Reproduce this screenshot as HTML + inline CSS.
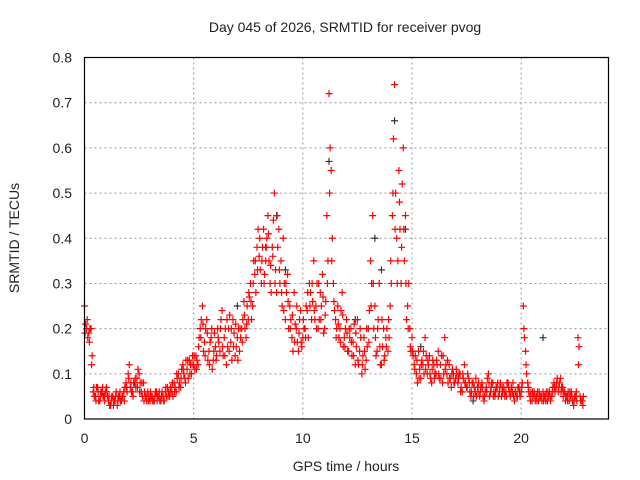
<!DOCTYPE html>
<html><head><meta charset="utf-8"><style>
body{margin:0;background:#fff;}
svg{display:block;font-family:"Liberation Sans",sans-serif;}
</style></head><body>
<svg id="chart" width="640" height="480">
<text x="345" y="32" font-size="14" text-anchor="middle" fill="#222">Day 045 of 2026, SRMTID for receiver pvog</text>
<text x="346" y="471" font-size="14" text-anchor="middle" fill="#222">GPS time / hours</text>
<text transform="translate(19,238) rotate(-90)" font-size="14" text-anchor="middle" fill="#222">SRMTID / TECUs</text>
<g id="grid"></g><g id="ticks"></g><g id="marks"></g>
<rect x="84.5" y="57.5" width="524" height="361.5" fill="none" stroke="#000" stroke-width="1.2"/>
</svg>
<script>
const xTicks=[0,5,10,15,20];
const yTicks=[0,0.1,0.2,0.3,0.4,0.5,0.6,0.7,0.8];
const yTickLabels=["0","0.1","0.2","0.3","0.4","0.5","0.6","0.7","0.8"];
const startTime=0, stepHours=0.1;
const values=[0.25,0.2,0.19,0.2,0.06,0.05,0.07,0.04,0.06,0.05,0.07,
0.04,0.03,0.05,0.04,0.03,0.05,0.04,0.06,0.08,0.1,
0.07,0.06,0.08,0.09,0.1,0.06,0.08,0.05,0.06,0.04,
0.05,0.04,0.06,0.05,0.04,0.05,0.06,0.07,0.05,0.06,
0.08,0.06,0.1,0.07,0.12,0.09,0.11,0.13,0.1,0.12,
0.14,0.12,0.2,0.25,0.17,0.22,0.15,0.18,0.13,0.16,
0.2,0.15,0.24,0.18,0.12,0.2,0.17,0.22,0.14,0.18,
0.15,0.2,0.26,0.18,0.22,0.3,0.25,0.32,0.38,0.36,
0.3,0.42,0.35,0.45,0.3,0.38,0.5,0.28,0.42,0.35,
0.4,0.22,0.32,0.25,0.18,0.28,0.2,0.15,0.24,0.18,
0.2,0.24,0.3,0.22,0.35,0.25,0.2,0.28,0.32,0.2,
0.45,0.72,0.55,0.3,0.22,0.25,0.2,0.28,0.18,0.22,
0.15,0.2,0.17,0.12,0.22,0.15,0.1,0.18,0.13,0.2,
0.35,0.45,0.25,0.15,0.3,0.12,0.2,0.18,0.15,0.25,
0.45,0.74,0.4,0.55,0.3,0.6,0.45,0.25,0.2,0.18,
0.12,0.1,0.15,0.09,0.12,0.18,0.1,0.14,0.08,0.12,
0.1,0.15,0.12,0.08,0.18,0.1,0.12,0.07,0.1,0.09,
0.08,0.1,0.06,0.12,0.07,0.09,0.05,0.08,0.06,0.07,
0.05,0.08,0.04,0.07,0.1,0.06,0.08,0.05,0.07,0.06,
0.05,0.07,0.06,0.08,0.05,0.06,0.04,0.05,0.07,0.06,
0.25,0.15,0.08,0.05,0.04,0.06,0.05,0.04,0.05,0.06,
0.05,0.04,0.06,0.05,0.08,0.07,0.06,0.09,0.07,0.06,
0.05,0.04,0.06,0.03,0.05,0.18,0.05,0.04];
const valuesB=[0.21,0.18,0.2,0.14,0.05,0.07,0.04,0.06,0.05,0.06,0.05,
0.03,0.05,0.04,0.06,0.05,0.04,0.05,0.07,0.06,0.12,
0.06,0.08,0.07,0.11,0.08,0.05,0.06,0.04,0.05,0.05,
0.04,0.06,0.05,0.04,0.06,0.04,0.05,0.06,0.07,0.05,
0.07,0.09,0.08,0.11,0.1,0.13,0.09,0.12,0.14,0.11,
0.13,0.18,0.22,0.15,0.2,0.13,0.17,0.11,0.19,0.14,
0.17,0.22,0.14,0.2,0.16,0.23,0.13,0.19,0.16,0.2,
0.18,0.22,0.2,0.25,0.27,0.22,0.35,0.28,0.42,0.33,
0.38,0.32,0.4,0.35,0.28,0.44,0.33,0.38,0.3,0.25,
0.3,0.28,0.2,0.22,0.15,0.21,0.17,0.22,0.16,0.2,
0.25,0.18,0.28,0.26,0.22,0.3,0.22,0.25,0.19,0.26,
0.35,0.6,0.4,0.24,0.2,0.18,0.24,0.16,0.2,0.15,
0.18,0.14,0.21,0.16,0.12,0.18,0.14,0.11,0.16,0.24,
0.3,0.2,0.14,0.22,0.12,0.16,0.14,0.2,0.18,0.3,
0.62,0.5,0.35,0.42,0.52,0.35,0.22,0.3,0.15,0.14,
0.14,0.08,0.11,0.13,0.1,0.14,0.12,0.09,0.13,0.1,
0.12,0.09,0.14,0.1,0.12,0.08,0.09,0.11,0.08,0.1,
0.1,0.07,0.09,0.08,0.1,0.06,0.08,0.07,0.05,0.08,
0.07,0.05,0.06,0.09,0.05,0.08,0.06,0.07,0.05,0.08,
0.06,0.05,0.08,0.06,0.07,0.05,0.06,0.07,0.05,0.08,
0.18,0.1,0.06,0.06,0.05,0.04,0.06,0.05,0.04,0.05,
0.06,0.05,0.04,0.07,0.06,0.09,0.08,0.07,0.06,0.05,
0.06,0.05,0.04,0.05,0.04,0.16,0.04,0.05];
const valuesC=[0.19,0.22,0.17,0.12,0.07,0.04,0.06,0.05,0.07,0.04,0.06,
0.05,0.04,0.03,0.05,0.04,0.06,0.05,0.04,0.07,0.09,
0.08,0.05,0.09,0.07,0.06,0.08,0.04,0.05,0.04,0.06,
0.04,0.05,0.04,0.06,0.05,0.04,0.07,0.05,0.06,0.08,
0.06,0.1,0.07,0.09,0.11,0.08,0.13,0.1,0.12,0.14,
0.11,0.16,0.18,0.21,0.14,0.19,0.12,0.2,0.15,0.13,
0.18,0.2,0.16,0.14,0.22,0.15,0.2,0.16,0.21,0.13,
0.2,0.17,0.23,0.21,0.28,0.26,0.3,0.35,0.33,0.4,
0.35,0.3,0.38,0.41,0.34,0.36,0.3,0.45,0.33,0.28,
0.24,0.3,0.26,0.2,0.23,0.17,0.25,0.19,0.17,0.22,
0.18,0.28,0.25,0.3,0.24,0.2,0.3,0.22,0.27,0.23,
0.3,0.5,0.35,0.26,0.18,0.21,0.17,0.23,0.16,0.19,
0.2,0.17,0.14,0.19,0.13,0.2,0.12,0.15,0.2,0.17,
0.25,0.3,0.18,0.2,0.16,0.22,0.13,0.16,0.22,0.35,
0.5,0.42,0.3,0.48,0.38,0.42,0.3,0.2,0.16,0.15,
0.11,0.13,0.09,0.12,0.15,0.11,0.13,0.1,0.11,0.09,
0.13,0.1,0.09,0.14,0.11,0.13,0.09,0.1,0.08,0.11,
0.09,0.06,0.1,0.08,0.07,0.08,0.06,0.05,0.09,0.06,
0.06,0.07,0.05,0.06,0.08,0.07,0.05,0.06,0.08,0.07,
0.07,0.06,0.05,0.07,0.06,0.08,0.06,0.05,0.06,0.07,
0.2,0.12,0.07,0.04,0.06,0.05,0.04,0.06,0.05,0.04,
0.04,0.06,0.05,0.06,0.07,0.08,0.07,0.06,0.05,0.04,
0.04,0.06,0.05,0.04,0.06,0.12,0.04,0.03];
const blackTimes=[7.0,8.3,8.8,9.2,11.2,12.4,13.3,13.6,14.2,14.7,15.4,17.8,21.0];
const blackValues=[0.25,0.38,0.45,0.33,0.57,0.22,0.4,0.33,0.66,0.42,0.16,0.04,0.18];
const NS="http://www.w3.org/2000/svg";
const L=84.5,R=608.5,T=57.5,B=419,xMax=24,yMax=0.8;
function xs(t){return L+(t/xMax)*(R-L);}
function ys(v){return B-(v/yMax)*(B-T);}
const grid=document.getElementById('grid'),ticks=document.getElementById('ticks'),marks=document.getElementById('marks');
xTicks.forEach(t=>{const x=xs(t);
 if(t>0){const g=document.createElementNS(NS,'line');g.setAttribute('x1',x);g.setAttribute('x2',x);g.setAttribute('y1',T);g.setAttribute('y2',B);g.setAttribute('stroke','#999');g.setAttribute('stroke-dasharray','2,3');
 
 grid.appendChild(g);}
 const tx=document.createElementNS(NS,'text');tx.setAttribute('x',x);tx.setAttribute('y',443);tx.setAttribute('font-size','14');tx.setAttribute('text-anchor','middle');tx.setAttribute('fill','#222');tx.textContent=t;
 
 ticks.appendChild(tx);});
yTicks.forEach((v,i)=>{const y=ys(v);
 if(v>0&&v<yMax){const g=document.createElementNS(NS,'line');g.setAttribute('x1',L);g.setAttribute('x2',R);g.setAttribute('y1',y);g.setAttribute('y2',y);g.setAttribute('stroke','#999');g.setAttribute('stroke-dasharray','2,3');
 
 grid.appendChild(g);}
 const tx=document.createElementNS(NS,'text');tx.setAttribute('x',72);tx.setAttribute('y',y+5);tx.setAttribute('font-size','14');tx.setAttribute('text-anchor','end');tx.setAttribute('fill','#222');tx.textContent=yTickLabels[i];
 
 ticks.appendChild(tx);});
function plus(t,v,c,name){const x=xs(t),y=ys(v);const p=document.createElementNS(NS,'path');
 p.setAttribute('d','M'+(x-3.5)+' '+y+'h7M'+x+' '+(y-3.5)+'v7');p.setAttribute('stroke',c);p.setAttribute('stroke-width','1.2');
 
 marks.appendChild(p);}
blackValues.forEach((v,i)=>plus(blackTimes[i],v,'#333','point-black'));
values.forEach((v,i)=>plus(startTime+i*stepHours,v,'#f00','point-red'));
valuesB.forEach((v,i)=>plus(startTime+i*stepHours+0.05,v,'#f00','point-red'));
valuesC.forEach((v,i)=>plus(startTime+i*stepHours+0.025,v,'#f00','point-red'));
</script>
</body></html>
